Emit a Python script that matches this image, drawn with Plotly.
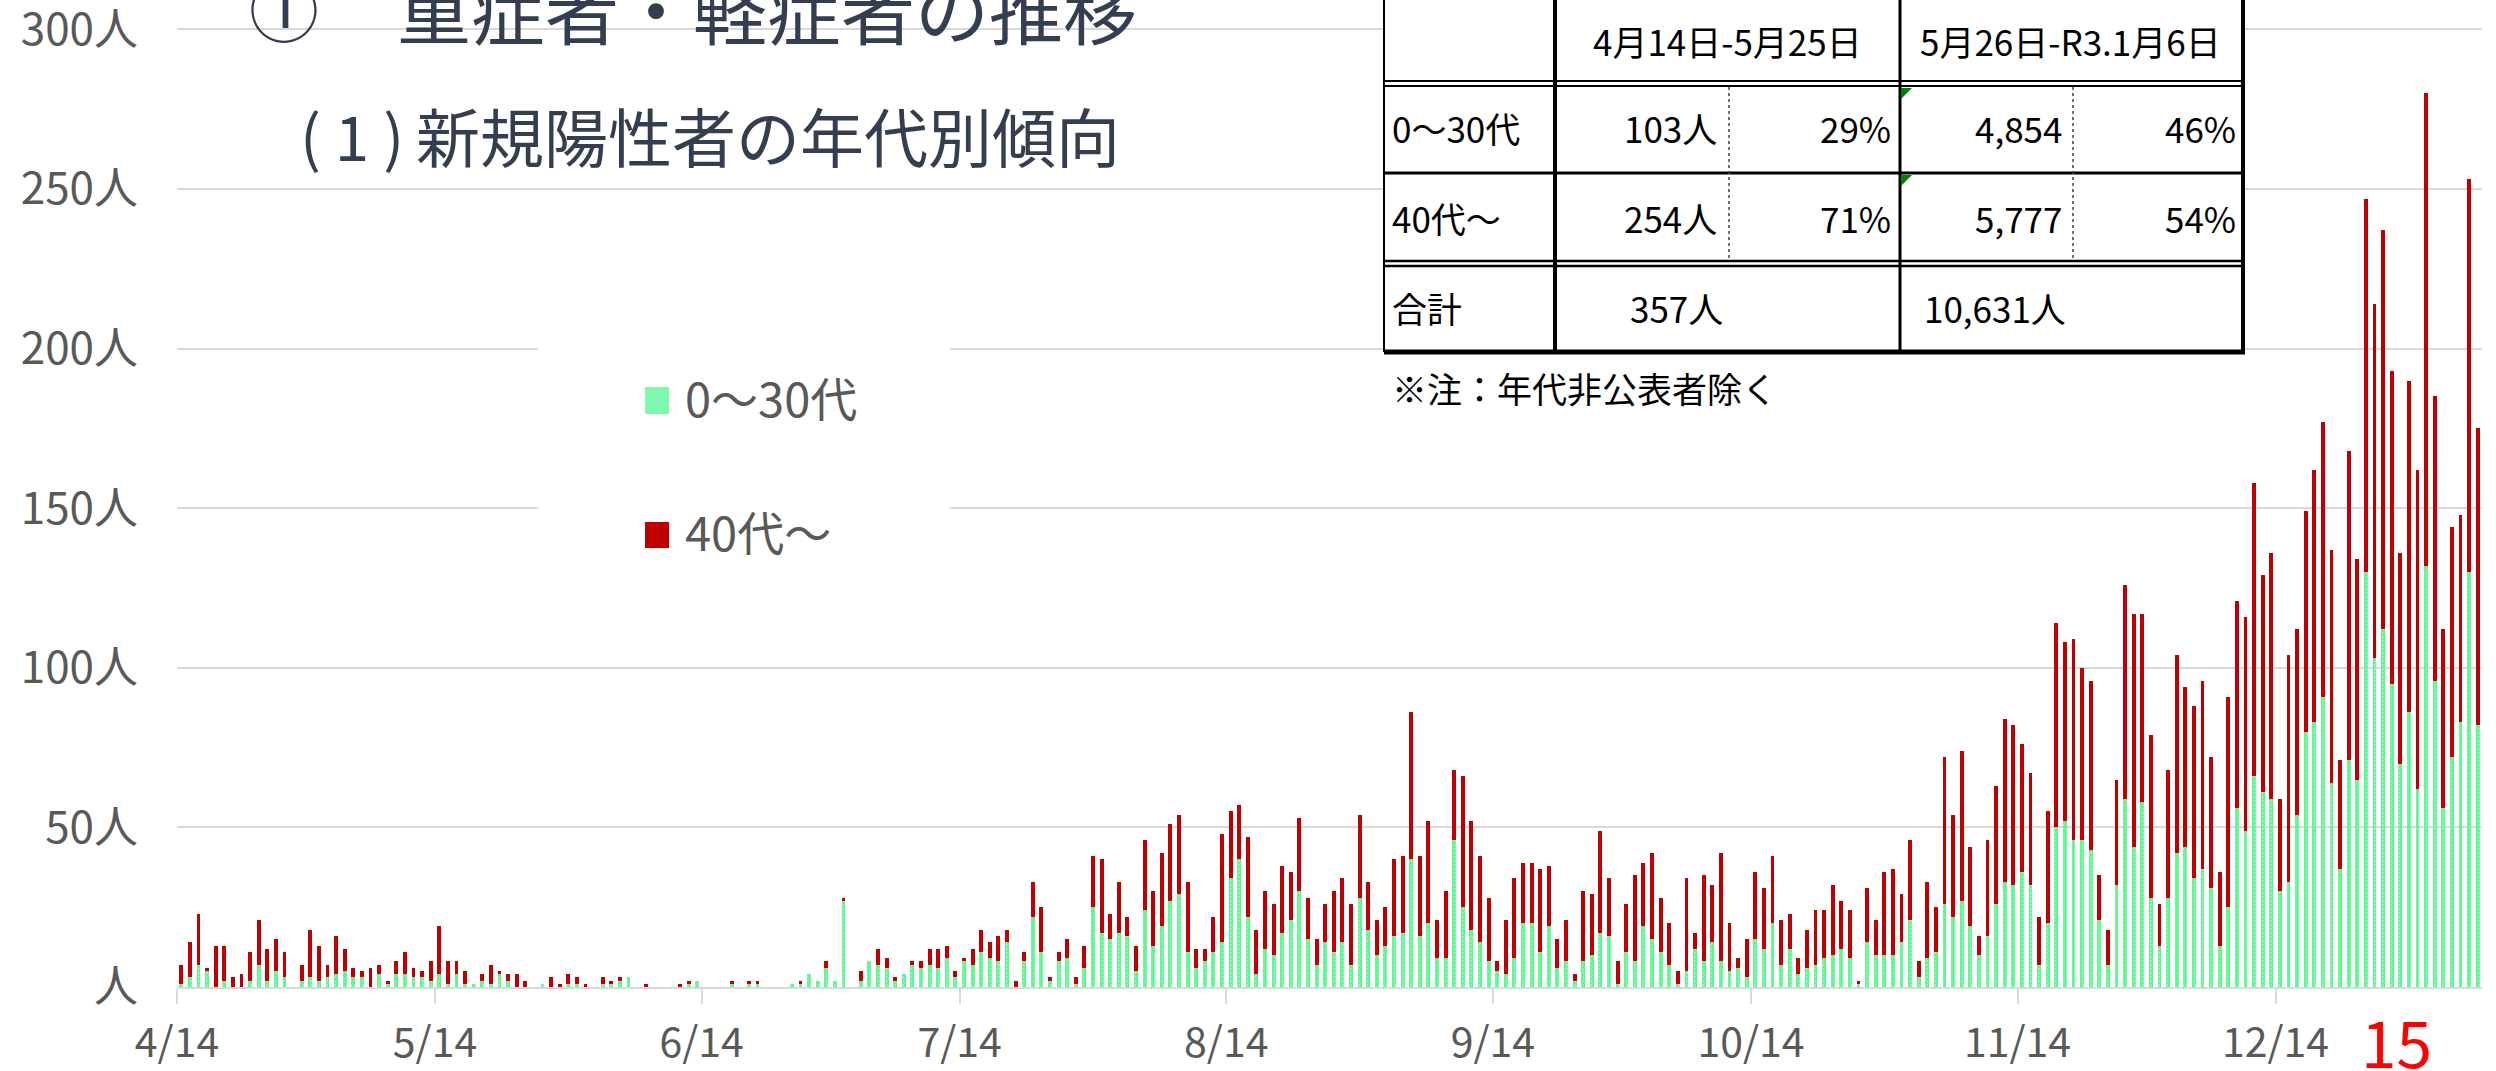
import plotly.graph_objects as go
import pandas as pd

# ---------------- data ----------------
start_date = "2020-04-14"
end_date = "2021-01-06"

young = [  # 0～30代
    1, 3, 7, 5, 0, 2, 0, 0, 2, 7,
    2, 5, 3, 0, 2, 3, 2, 3, 4, 5,
    3, 3, 0, 4, 1, 4, 4, 3, 3, 2,
    4, 1, 4, 1, 1, 2, 1, 4, 2, 0,
    0, 0, 1, 0, 0, 1, 1, 0, 0, 1,
    1, 2, 3, 0, 0, 0, 0, 0, 0, 1,
    2, 0, 0, 0, 1, 0, 1, 1, 0, 0,
    0, 1, 1, 4, 2, 6, 2, 27, 0, 2,
    8, 7, 6, 2, 4, 7, 6, 7, 6, 9,
    3, 8, 7, 11, 9, 8, 14, 0, 8, 22,
    11, 2, 8, 9, 1, 6, 25, 17, 15, 17,
    16, 5, 24, 13, 19, 27, 29, 11, 6, 8,
    11, 14, 34, 40, 22, 4, 12, 10, 17, 21,
    30, 15, 7, 14, 11, 14, 7, 28, 18, 10,
    13, 16, 17, 40, 16, 20, 9, 9, 46, 25,
    18, 14, 8, 5, 4, 9, 20, 20, 11, 19,
    6, 8, 2, 8, 10, 17, 16, 1, 11, 8,
    19, 15, 11, 7, 1, 5, 12, 8, 14, 8,
    5, 6, 3, 15, 12, 20, 7, 12, 4, 6,
    7, 9, 10, 12, 9, 1, 14, 10, 10, 10,
    14, 21, 3, 9, 11, 26, 22, 27, 19, 10,
    16, 26, 33, 32, 36, 32, 7, 20, 50, 52,
    46, 46, 43, 21, 7, 32, 59, 44, 58, 28,
    13, 28, 42, 44, 34, 37, 31, 13, 25, 56,
    49, 66, 61, 59, 30, 33, 54, 80, 83, 91,
    64, 37, 71, 65, 130, 103, 112, 95, 70, 86,
    62, 132, 96, 56, 72, 83, 130, 82,
]

old = [  # 40代～
    6, 11, 16, 1, 13, 11, 3, 4, 9, 14,
    10, 10, 8, 0, 5, 15, 11, 4, 12, 7,
    3, 2, 6, 3, 1, 4, 7, 3, 2, 6,
    15, 7, 4, 4, 0, 2, 6, 1, 2, 4,
    2, 0, 0, 3, 1, 3, 2, 1, 0, 2,
    1, 1, 0, 0, 1, 0, 0, 0, 1, 1,
    0, 0, 0, 0, 1, 0, 1, 1, 0, 0,
    0, 0, 1, 0, 0, 2, 0, 1, 0, 3,
    0, 5, 3, 1, 0, 1, 2, 5, 6, 4,
    2, 1, 5, 7, 5, 8, 4, 2, 3, 11,
    14, 1, 3, 6, 2, 7, 16, 23, 8, 16,
    6, 8, 22, 17, 23, 24, 25, 22, 6, 4,
    11, 34, 21, 17, 25, 14, 18, 16, 21, 15,
    23, 13, 8, 12, 19, 20, 19, 26, 15, 11,
    12, 24, 24, 46, 25, 32, 12, 21, 22, 41,
    34, 27, 20, 3, 17, 25, 19, 19, 26, 19,
    9, 13, 2, 22, 19, 32, 18, 7, 15, 27,
    20, 27, 17, 13, 4, 29, 5, 27, 18, 34,
    15, 3, 12, 21, 19, 21, 14, 11, 5, 12,
    17, 15, 22, 15, 15, 1, 17, 11, 26, 27,
    15, 25, 5, 24, 14, 46, 32, 47, 25, 6,
    30, 37, 51, 50, 40, 35, 15, 35, 64, 56,
    63, 54, 53, 14, 11, 33, 67, 73, 59, 51,
    13, 40, 62, 50, 54, 59, 41, 23, 66, 65,
    67, 92, 68, 77, 29, 71, 58, 69, 79, 86,
    73, 34, 97, 69, 117, 111, 125, 98, 66, 104,
    100, 148, 89, 56, 72, 65, 123, 93,
]

series_names = ["0～30代", "40代～"]

tick_dates = ["2020-04-14", "2020-05-14", "2020-06-14", "2020-07-14", "2020-08-14",
              "2020-09-14", "2020-10-14", "2020-11-14", "2020-12-14"]
tick_labels = ["4/14", "5/14", "6/14", "7/14", "8/14", "9/14", "10/14", "11/14", "12/14"]

y_ticks = [0, 50, 100, 150, 200, 250, 300]
y_tick_labels = ["人", "50人", "100人", "150人", "200人", "250人", "300人"]

table_header = ["4月14日-5月25日", "5月26日-R3.1月6日"]
table_rows = [
    ["0～30代", "103人", "29%", "4,854", "46%"],
    ["40代～", "254人", "71%", "5,777", "54%"],
]
table_total = ["合計", "357人", "10,631人"]
table_note = "※注：年代非公表者除く"

title_main = ["①", "重症者・軽症者の推移"]
title_sub = ["( 1 )", "新規陽性者の年代別傾向"]
page_number = "15"

# ---------------- figure ----------------
dates = pd.date_range(start_date, end_date, freq="D")
half = pd.Timedelta(hours=12)

W, H = 2496, 1071
L, R, T, B = 177, 14, 23, 84
PW, PH = W - L - R, H - T - B
BOTTOM = H - B
Y_MAX = 302

def px(x):
    return (x - L) / PW

def py(y):
    return (BOTTOM - y) / PH

FONT = "Noto Sans CJK JP"
GRAY = "#595959"
GREEN = "#5ef794"
RED = "#c00000"
NAVY = "#333f50"
GRID = "#d9d9d9"

fig = go.Figure()
fig.add_trace(go.Bar(
    x=dates, y=young, name=series_names[0],
    marker=dict(color=GREEN, line=dict(width=0),
                pattern=dict(shape=".", fgcolor="white", size=4, solidity=0.15)),
))
fig.add_trace(go.Bar(
    x=dates, y=old, name=series_names[1],
    marker=dict(color=RED, line=dict(width=0)),
))

tickvals = [pd.Timestamp(d) - half for d in tick_dates]

fig.update_layout(
    width=W, height=H,
    barmode="stack", bargap=0.55,
    showlegend=False,
    plot_bgcolor="white", paper_bgcolor="white",
    margin=dict(l=L, r=R, t=T, b=B, autoexpand=False),
    font=dict(family=FONT, color=GRAY),
    xaxis=dict(
        range=[dates[0] - half, dates[-1] + half],
        tickvals=tickvals, ticktext=tick_labels,
        ticks="outside", ticklen=15, tickwidth=2, tickcolor=GRID,
        showline=True, linecolor=GRID, linewidth=2,
        showgrid=False, zeroline=False,
        tickfont=dict(size=41, color=GRAY, family=FONT),
        ticklabelstandoff=4,
        ticklabeloverflow="allow",
    ),
    yaxis=dict(
        range=[0, Y_MAX], tickvals=y_ticks, ticktext=y_tick_labels,
        showgrid=True, gridcolor=GRID, gridwidth=2,
        zeroline=False, showline=False, ticks="",
        tickfont=dict(size=44, color=GRAY, family=FONT),
        ticklabelstandoff=38,
        ticklabeloverflow="allow",
    ),
)

shapes = []
annotations = []

def rect(x0, y0, x1, y1, fill, line_w=0, line_c=None, layer="above"):
    shapes.append(dict(type="rect", xref="paper", yref="paper",
                       x0=px(x0), x1=px(x1), y0=py(y1), y1=py(y0),
                       fillcolor=fill, line=dict(width=line_w, color=line_c or fill),
                       layer=layer))

def line(x0, y0, x1, y1, w, c="black", dash="solid"):
    shapes.append(dict(type="line", xref="paper", yref="paper",
                       x0=px(x0), x1=px(x1), y0=py(y0), y1=py(y1),
                       line=dict(width=w, color=c, dash=dash), layer="above"))

def text(s, x, y, size, color="black", xanchor="left", yanchor="middle"):
    annotations.append(dict(text=s, xref="paper", yref="paper", x=px(x), y=py(y),
                            xanchor=xanchor, yanchor=yanchor, showarrow=False,
                            font=dict(size=size, color=color, family=FONT)))

# titles
text(title_main[0], 247, 6, 70, NAVY)
text(title_main[1], 395, 6, 74, NAVY)
text(title_sub[0], 298, 134, 62, NAVY)
text(title_sub[1], 414, 134, 64, NAVY)

# legend box
rect(538, 330, 950, 585, "white")
rect(645, 387, 669, 414, "#7ffaac")
rect(645, 522, 669, 548, RED)
text(series_names[0], 683, 397, 47, GRAY)
text(series_names[1], 683, 530, 47, GRAY)

# table
TL, TC1, TC2, TR = 1384, 1555, 1900, 2243
D1, D2 = 1729, 2073
rect(TL, -10, TR, 352, "white")
line(TL, -10, TL, 352, 2)
line(TC1, -10, TC1, 352, 4)
line(TC2, -10, TC2, 352, 3)
line(TR, -10, TR, 354, 4)
line(TL, 81, TR, 81, 2)
line(TL, 86, TR, 86, 2)
line(TL, 173, TR, 173, 3)
line(TL, 261, TR, 261, 2.5)
line(TL, 266, TR, 266, 2.5)
line(TL, 352, TR + 2, 352, 5)
line(D1, 87, D1, 260, 1.5, "#444444", "dot")
line(D2, 87, D2, 260, 1.5, "#444444", "dot")
for ty in (88, 175):
    shapes.append(dict(type="path", xref="paper", yref="paper",
                       path=f"M {px(1901)},{py(ty)} L {px(1912)},{py(ty)} L {px(1901)},{py(ty + 11)} Z",
                       fillcolor="#008000", line=dict(width=0), layer="above"))

TS = 35
text(table_header[0], 1727, 40, TS, xanchor="center")
text(table_header[1], 2070, 40, TS, xanchor="center")
for row, yc in zip(table_rows, (128, 218)):
    text(row[0], 1390, yc, TS)
    text(row[1], 1719, yc, TS, xanchor="right")
    text(row[2], 1893, yc, TS, xanchor="right")
    text(row[3], 2064, yc, TS, xanchor="right")
    text(row[4], 2238, yc, TS, xanchor="right")
text(table_total[0], 1390, 308, TS)
text(table_total[1], 1628, 308, TS)
text(table_total[2], 1922, 308, TS)
text(table_note, 1390, 387, TS)

# page number
text(page_number, 2396, 1040, 64, "#ff0000", xanchor="center")

fig.update_layout(shapes=shapes, annotations=annotations)
fig.write_html("out.html", config={"displayModeBar": False},
               post_script="document.body.style.margin='0px';")
